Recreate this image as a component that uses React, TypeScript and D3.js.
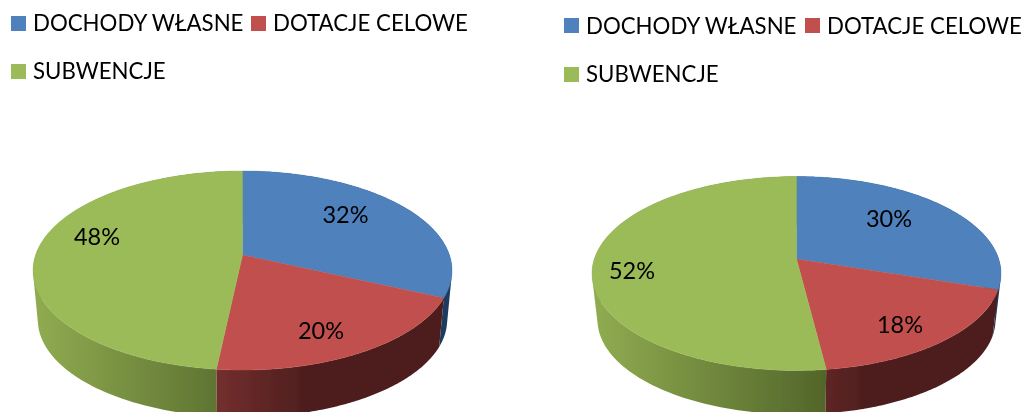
import React from "react";
import * as d3 from "d3";

const categories = ["DOCHODY WŁASNE", "DOTACJE CELOWE", "SUBWENCJE"];
const colors = ["#4F81BD", "#C0504D", "#9BBB59"];
const sideStart = ["#2A4D7A", "#C0504D", "#8FAB50"];
const sideEnd = ["#1F3A5F", "#4D1E1E", "#4F6228"];
const sideSpan = [270, 270, 240];
const valuesLeft = [31.8, 19.9, 48.3];
const valuesRight = [30, 18, 52];

const chartLeft = {
  id: "l", values: valuesLeft, cx: 242.5, apexY: 255, a: 57.3, k: -0.156, R: 206.9,
  ellipseY: 270.5, bottomY: 320, shrink: 0.977, left: 37,
  labels: [[345.5, 215], [321, 331], [97, 237]],
  swatchX: [11, 251], swatchY: [16, 64], textX: [33, 273], baseY: [31, 79],
};
const chartRight = {
  id: "r", values: valuesRight, cx: 796.5, apexY: 259, a: 56.1, k: -0.1495, R: 202.2,
  ellipseY: 273.5, bottomY: 320, shrink: 0.973, left: 597,
  labels: [[889, 219], [900, 325], [632, 271]],
  swatchX: [564, 805], swatchY: [18, 67], textX: [586, 827], baseY: [33.5, 82],
};

const FONT = "Lato, Carlito, sans-serif";
const pieGen = d3.pie<number>().sort(null);

function Pie({ c }: { c: typeof chartLeft }) {
  const arcs = pieGen(c.values);
  const top = (t: number): [number, number] => {
    const u = Math.sin(t), v = -Math.cos(t), w = 1 + c.k * v;
    return [c.cx + (c.R * u) / w, (c.a * v + c.apexY) / w];
  };
  const low = (t: number): [number, number] => {
    const [x, y] = top(t);
    return [c.cx + (x - c.cx) * c.shrink, c.bottomY + (y - c.ellipseY) * c.shrink];
  };
  const line = d3.line();
  const samples = (a: number, b: number) => d3.range(0, 121).map((i) => a + ((b - a) * i) / 120);
  const area = (p: [number, number][]) => d3.polygonArea(p);
  const sidePath = (a: number, b: number) => {
    const s = samples(a, b);
    return d3.range(s.length - 1).map((i) => {
      const q: [number, number][] = [top(s[i]), top(s[i + 1]), low(s[i + 1]), low(s[i])];
      return line(area(q) < 0 ? q.reverse() : q) + "Z";
    }).join("");
  };
  const order = [0, 2, 1];
  return (
    <g>
      <defs>
        {colors.map((_, i) => (
          <linearGradient key={i} id={`side-${c.id}-${i}`} gradientUnits="userSpaceOnUse"
            x1={c.left} x2={c.left + sideSpan[i]} y1={0} y2={0}>
            <stop offset="0" stopColor={sideStart[i]} />
            <stop offset="1" stopColor={sideEnd[i]} />
          </linearGradient>
        ))}
      </defs>
      {order.map((i) => (
        <path key={i} d={sidePath(arcs[i].startAngle, arcs[i].endAngle)} fill={`url(#side-${c.id}-${i})`} fillRule="nonzero" />
      ))}
      {arcs.map((a, i) => {
        const pts: [number, number][] = [[c.cx, c.apexY], ...samples(a.startAngle, a.endAngle).map(top)];
        return <path key={i} d={line(pts) + "Z"} fill={colors[i]} stroke={colors[i]} strokeWidth={0.4} />;
      })}
      {arcs.map((a, i) => (
        <text key={i} x={c.labels[i][0]} y={c.labels[i][1]} dy="0.36em" textAnchor="middle"
          fontFamily={FONT} fontSize={23.5} fill="#000">
          {`${Math.round(a.value)}%`}
        </text>
      ))}
      {categories.map((name, i) => {
        const col = i < 2 ? i : 0;
        const row = i < 2 ? 0 : 1;
        return (
          <g key={name}>
            <rect x={c.swatchX[col]} y={c.swatchY[row]} width={15} height={15} fill={colors[i]} />
            <text x={c.textX[col]} y={c.baseY[row]} fontFamily={FONT} fontSize={22.25} fill="#000">{name}</text>
          </g>
        );
      })}
    </g>
  );
}

export default function App() {
  return (
    <svg width={1023} height={412} viewBox="0 0 1023 412"
      style={{ position: "absolute", left: 0, top: 0, display: "block", background: "#fff" }}>
      <defs>
        <filter id="soft" x="0" y="0" width="100%" height="100%">
          <feGaussianBlur stdDeviation="0.45" />
        </filter>
      </defs>
      <g filter="url(#soft)">
        <Pie c={chartLeft} />
        <Pie c={chartRight} />
      </g>
    </svg>
  );
}
